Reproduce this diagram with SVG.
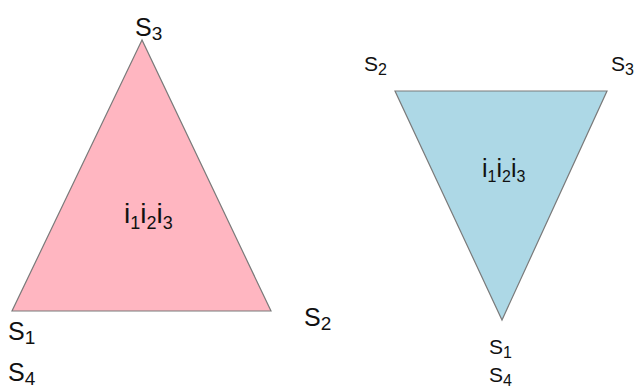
<svg xmlns="http://www.w3.org/2000/svg" width="637" height="390" viewBox="0 0 637 390">
<style>
.lbl{font-family:"Liberation Sans Narrow","Liberation Sans",Arial,sans-serif;fill:#111}
.big{font-size:25px}
.bigsub{font-size:19px}
.sm{font-size:21px}
.smsub{font-size:16px}
.tri{stroke:#7a7a7a;stroke-width:1.2}
</style>
<rect width="637" height="390" fill="#ffffff"/>
<g id="triangle-left">
<polygon class="tri" points="142,40 12,311 271,311" fill="#ffb6c1"/>
<text class="lbl" x="124" y="223" font-size="28">i<tspan font-size="18" dy="6">1</tspan><tspan dy="-6">i</tspan><tspan font-size="18" dy="6">2</tspan><tspan dy="-6">i</tspan><tspan font-size="18" dy="6">3</tspan></text>
</g>
<g id="triangle-right">
<polygon class="tri" points="395,91 607,91 502,320" fill="#add8e6"/>
<text class="lbl" x="482" y="177" font-size="25">i<tspan font-size="16" dy="5">1</tspan><tspan dy="-5">i</tspan><tspan font-size="16" dy="5">2</tspan><tspan dy="-5">i</tspan><tspan font-size="16" dy="5">3</tspan></text>
</g>
<g id="labels-left">
<text class="lbl big" x="135" y="36">S<tspan class="bigsub" dy="4">3</tspan></text>
<text class="lbl big" x="8" y="340">S<tspan class="bigsub" dy="4">1</tspan></text>
<text class="lbl big" x="8" y="381">S<tspan class="bigsub" dy="4">4</tspan></text>
<text class="lbl big" x="304" y="326">S<tspan class="bigsub" dy="4">2</tspan></text>
</g>
<g id="labels-right">
<text class="lbl sm" x="364" y="71">S<tspan class="smsub" dy="4">2</tspan></text>
<text class="lbl sm" x="611" y="71">S<tspan class="smsub" dy="4">3</tspan></text>
<text class="lbl sm" x="489" y="354">S<tspan class="smsub" dy="4">1</tspan></text>
<text class="lbl sm" x="489" y="382">S<tspan class="smsub" dy="4">4</tspan></text>
</g>
<g id="connectors"></g>
</svg>
